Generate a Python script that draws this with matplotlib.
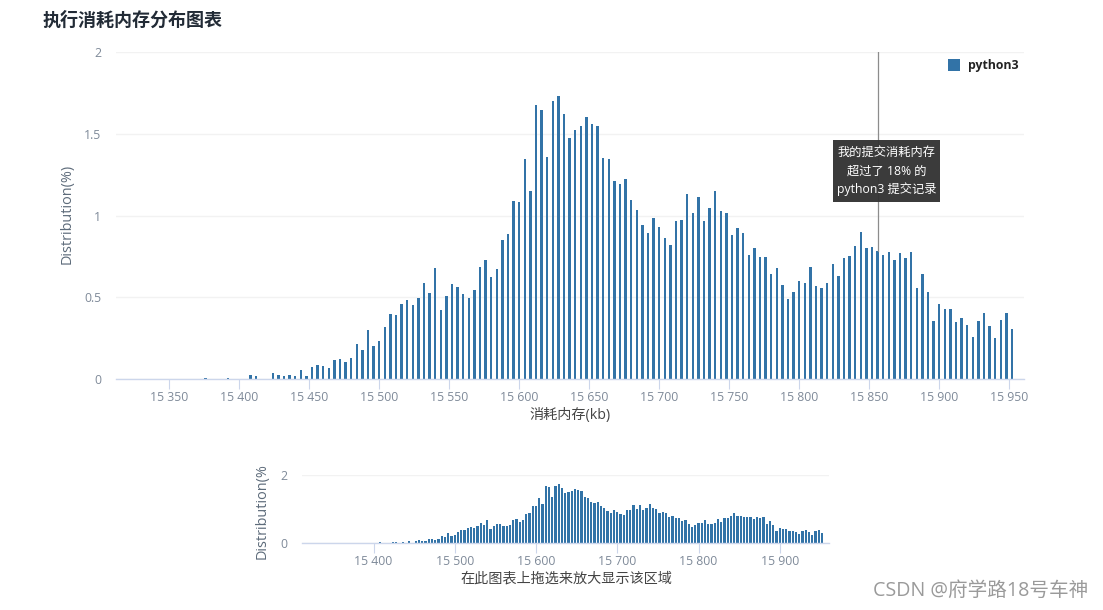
import matplotlib
matplotlib.use('Agg')
import matplotlib.pyplot as plt
from matplotlib.patches import Rectangle

plt.rcParams['font.family'] = ['Open Sans', 'Noto Sans CJK SC', 'DejaVu Sans']

W, H = 1103, 610

memory_kb = list(range(15376, 15956, 4))
distribution = [
    0.008, 0, 0, 0, 0.008, 0, 0, 0, 0.026, 0.02, 0, 0,
    0.039, 0.026, 0.02, 0.026, 0.02, 0.057, 0.02, 0.075, 0.087, 0.081, 0.069, 0.118,
    0.124, 0.106, 0.13, 0.215, 0.179, 0.30, 0.203, 0.234, 0.319, 0.398, 0.392, 0.459,
    0.485, 0.454, 0.497, 0.589, 0.527, 0.68, 0.424, 0.509, 0.582, 0.564, 0.521, 0.497,
    0.546, 0.686, 0.729, 0.625, 0.674, 0.851, 0.888, 1.09, 1.083, 1.346, 1.151, 1.676,
    1.646, 1.358, 1.70, 1.731, 1.621, 1.475, 1.523, 1.548, 1.603, 1.56, 1.548, 1.352,
    1.346, 1.212, 1.193, 1.224, 1.096, 1.035, 0.943, 0.894, 0.986, 0.931, 0.864, 0.821,
    0.967, 0.974, 1.132, 1.016, 1.114, 0.967, 1.047, 1.151, 1.029, 1.016, 0.882, 0.925,
    0.894, 0.76, 0.802, 0.747, 0.747, 0.644, 0.68, 0.576, 0.491, 0.534, 0.60, 0.589,
    0.686, 0.57, 0.558, 0.589, 0.705, 0.631, 0.741, 0.754, 0.815, 0.90, 0.802, 0.809,
    0.784, 0.76, 0.778, 0.729, 0.772, 0.741, 0.778, 0.558, 0.644, 0.534, 0.356, 0.46,
    0.43, 0.43, 0.35, 0.375, 0.332, 0.259, 0.356, 0.405, 0.326, 0.253, 0.363, 0.405,
    0.308,
]

main_xticks = [15350, 15400, 15450, 15500, 15550, 15600, 15650, 15700, 15750, 15800, 15850, 15900, 15950]
main_xlabels = ['15 350', '15 400', '15 450', '15 500', '15 550', '15 600', '15 650',
                '15 700', '15 750', '15 800', '15 850', '15 900', '15 950']
main_yticks = [0, 0.5, 1, 1.5, 2]
main_ylabels = ['0', '0.5', '1', '1.5', '2']
over_xticks = [15400, 15500, 15600, 15700, 15800, 15900]
over_xlabels = ['15 400', '15 500', '15 600', '15 700', '15 800', '15 900']
over_yticks = [0, 2]
my_submission_kb = 15856
my_submission_value = 0.784

BLUE = '#3273a7'
AXIS = '#ccd6eb'
GRID = '#f2f2f2'
TICK = '#7f8a99'
DARK = '#444444'


def make_axes(fig, left, right, top, bottom):
    ax = fig.add_axes([left / W, 1 - bottom / H, (right - left) / W, (bottom - top) / H])
    for side in ['top', 'left', 'right']:
        ax.spines[side].set_visible(False)
    ax.spines['bottom'].set_color(AXIS)
    ax.spines['bottom'].set_linewidth(1)
    ax.set_axisbelow(True)
    ax.grid(axis='y', color=GRID, linewidth=1)
    ax.set_xlim(15312, 15960.6)
    ax.set_ylim(0, 2)
    return ax


fig = plt.figure(figsize=(W / 100, H / 100), dpi=100, facecolor='white')

# main chart
ax = make_axes(fig, 116, 1024, 52, 379.3)
ax.bar(memory_kb, distribution, width=1.7, color=BLUE, linewidth=0)
ax.set_xticks(main_xticks, main_xlabels)
ax.set_yticks(main_yticks, main_ylabels)
ax.tick_params(axis='x', length=7.2, width=0.8, color=AXIS, labelcolor=TICK, labelsize=8.8, pad=1.2)
ax.tick_params(axis='y', length=0, labelcolor=TICK, labelsize=8.8, pad=10.5)
ax.plot([my_submission_kb, my_submission_kb], [my_submission_value, 2], color='#8c8c8c', linewidth=0.9, zorder=3)

# overview chart
ax2 = make_axes(fig, 302, 829, 475.3, 543.3)
ax2.bar(memory_kb, distribution, width=2.8, color=BLUE, linewidth=0)
ax2.set_xticks(over_xticks, over_xlabels)
ax2.set_yticks(over_yticks, ['0', '2'])
ax2.tick_params(axis='x', length=7.2, width=0.8, color=AXIS, labelcolor=TICK, labelsize=8.8, pad=1.2)
ax2.tick_params(axis='y', length=0, labelcolor=TICK, labelsize=8.8, pad=10.5)


def put(x, y, s, **kw):
    kw.setdefault('ha', 'center')
    kw.setdefault('va', 'center')
    return fig.text(x / W, 1 - y / H, s, **kw)


put(43, 21, '执行消耗内存分布图表', ha='left', fontsize=13, fontweight='bold', color='#222b36')
put(67, 214, 'Distribution(%)', rotation=90, fontsize=10.4, color='#5d6b7a')
put(570, 415, '消耗内存(kb)', fontsize=10.2, color=DARK)
put(262, 511, 'Distribution(%', rotation=90, fontsize=10.4, color='#5d6b7a')
put(566, 579, '在此图表上拖选来放大显示该区域', fontsize=10.2, color=DARK)

# legend
fig.add_artist(Rectangle((948 / W, 1 - 71 / H), 12 / W, 12 / H, transform=fig.transFigure, color=BLUE, linewidth=0))
put(968, 66, 'python3', ha='left', fontsize=8.8, fontweight='bold', color='#222222')

# tooltip
fig.add_artist(Rectangle((833 / W, 1 - 202 / H), 107 / W, 62 / H, transform=fig.transFigure,
                         facecolor='#333333', edgecolor='none', alpha=0.96))
put(886.5, 152.5, '我的提交消耗内存', fontsize=8.8, color='white')
put(886.5, 171, '超过了 18% 的', fontsize=8.8, color='white')
put(886.5, 189, 'python3 提交记录', fontsize=8.8, color='white')

# watermark
put(1088, 591, 'CSDN @府学路18号车神', ha='right', fontsize=14.1, color='#9a9a9a')

fig.savefig('out.png', dpi=100)
